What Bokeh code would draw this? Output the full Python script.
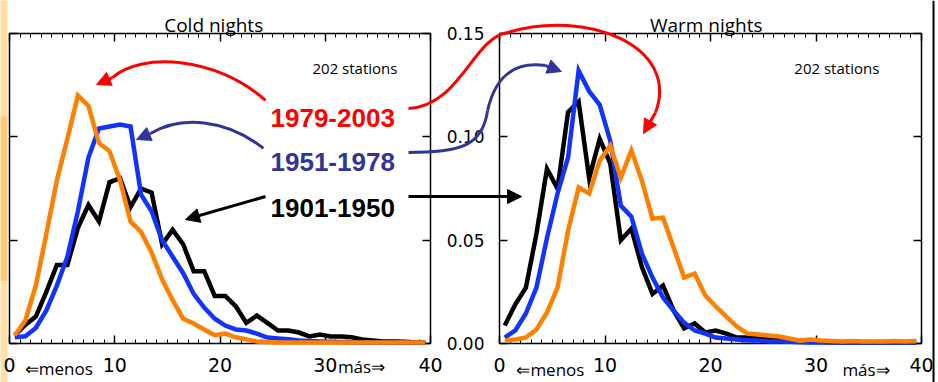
from bokeh.plotting import figure
from bokeh.models import (Range1d, LinearAxis, FixedTicker, Label, Arrow, NormalHead, Span,
                          PrintfTickFormatter, BoxAnnotation)
from bokeh.embed import file_html
from bokeh.resources import INLINE

# ---------------- data ----------------
bins = [i + 0.5 for i in range(40)]          # bin centres (0..40)
x_ticks = [0, 10, 20, 30, 40]
y_ticks = [0.0, 0.05, 0.10, 0.15]
periods = ["1901-1950", "1951-1978", "1979-2003"]
panel_titles = ["Cold nights", "Warm nights"]
stations_text = "202 stations"

cold_1901 = [0.004, 0.009, 0.013, 0.025, 0.038, 0.038, 0.056, 0.067, 0.059, 0.078,
             0.080, 0.066, 0.075, 0.073, 0.048, 0.055, 0.048, 0.035, 0.035, 0.023,
             0.023, 0.018, 0.010, 0.0135, 0.010, 0.0063, 0.0063, 0.0053, 0.0034, 0.0043,
             0.0034, 0.0034, 0.003, 0.002, 0.0015, 0.001, 0.001, 0.0008, 0.0005, 0.0005]
cold_1951 = [0.003, 0.0035, 0.0075, 0.016, 0.028, 0.042, 0.064, 0.090, 0.104, 0.105,
             0.106, 0.105, 0.072, 0.064, 0.050, 0.042, 0.034, 0.024, 0.0174, 0.012,
             0.0087, 0.0068, 0.0063, 0.0048, 0.0029, 0.0024, 0.002, 0.0015, 0.0012, 0.001,
             0.0008, 0.0007, 0.0006, 0.0005, 0.0005, 0.0005, 0.0004, 0.0004, 0.0004, 0.0004]
cold_1979 = [0.004, 0.011, 0.028, 0.053, 0.079, 0.099, 0.120, 0.115, 0.097, 0.093,
             0.079, 0.059, 0.054, 0.044, 0.031, 0.021, 0.012, 0.0097, 0.0068, 0.004,
             0.0048, 0.003, 0.002, 0.001, 0.0007, 0.0005, 0.0005, 0.0005, 0.0005, 0.0005,
             0.0005, 0.0005, 0.0005, 0.0005, 0.0005, 0.0005, 0.0005, 0.0005, 0.0005, 0.0005]

warm_1901 = [0.0087, 0.019, 0.027, 0.053, 0.0845, 0.075, 0.112, 0.117, 0.080, 0.099,
             0.087, 0.050, 0.0556, 0.037, 0.024, 0.028, 0.016, 0.0073, 0.0097, 0.0053,
             0.0063, 0.0048, 0.0029, 0.0029, 0.0024, 0.0019, 0.0015, 0.0015, 0.001, 0.001,
             0.0008, 0.0006, 0.0005, 0.0005, 0.0005, 0.0005, 0.0005, 0.0005, 0.0005, 0.0005]
warm_1951 = [0.0029, 0.0063, 0.0145, 0.027, 0.051, 0.0726, 0.090, 0.132, 0.122, 0.1155,
             0.098, 0.0667, 0.0614, 0.0435, 0.0319, 0.0222, 0.016, 0.0101, 0.0063, 0.0048,
             0.0029, 0.0024, 0.0019, 0.0015, 0.0015, 0.001, 0.001, 0.0008, 0.0006, 0.0005,
             0.0005, 0.0005, 0.0005, 0.0005, 0.0005, 0.0005, 0.0005, 0.0005, 0.0005, 0.0005]
warm_1979 = [0.0014, 0.0019, 0.0029, 0.0068, 0.015, 0.027, 0.0546, 0.0755, 0.0726, 0.0885,
             0.0957, 0.0803, 0.0934, 0.0787, 0.0604, 0.0609, 0.0464, 0.0319, 0.0338, 0.0232,
             0.0179, 0.013, 0.0082, 0.0048, 0.0043, 0.0039, 0.0034, 0.0024, 0.0014, 0.0019,
             0.0014, 0.0012, 0.001, 0.0012, 0.001, 0.001, 0.001, 0.0012, 0.001, 0.0012]

# ---------------- layout (pixels of the canvas) ----------------
W, H = 938, 382
LX0, LX1 = 9, 430      # left panel frame
RX0, RX1 = 499, 921    # right panel frame
TOP, BOT = 33, 343     # both panels
XMAX, YMAX = 40, 0.15

def span_range(p0, p1, vmax, size):
    s = (p1 - p0) / vmax
    return Range1d(start=-p0 / s, end=(size - p0) / s)

p = figure(width=W, height=H,
           x_range=span_range(LX0, LX1, XMAX, W),
           y_range=span_range(H - BOT, H - TOP, YMAX, H),
           x_axis_type=None, y_axis_type=None,
           output_backend="svg", toolbar_location=None,
           min_border=0, outline_line_color=None)
p.title.visible = False
p.extra_x_ranges = {"right": span_range(RX0, RX1, XMAX, W)}
p.background_fill_color = "white"
p.border_fill_color = "white"

COLORS = {"1901-1950": "#000000", "1951-1978": "#1133ff", "1979-2003": "#ff7f00"}
TICK_FONT = "DejaVu Sans"

def style(ax, font_size="19px", standoff=12):
    ax.axis_line_width = 1.5
    ax.axis_line_color = "black"
    ax.major_tick_line_width = 1.5
    ax.minor_tick_line_width = 1
    ax.major_tick_in = 8
    ax.major_tick_out = 0
    ax.minor_tick_in = 4
    ax.minor_tick_out = 0
    ax.major_label_text_font = TICK_FONT
    ax.major_label_text_font_size = font_size
    ax.major_label_text_color = "black"
    ax.major_label_standoff = standoff

def panel_axes(rname, ylabels):
    xt = lambda: FixedTicker(ticks=x_ticks, minor_ticks=list(range(0, XMAX + 1)))
    yt = lambda: FixedTicker(ticks=y_ticks, minor_ticks=[])
    bottom = LinearAxis(x_range_name=rname, fixed_location=0, bounds=(0, XMAX), ticker=xt())
    style(bottom, "19px", 14)
    p.add_layout(bottom, "below")
    top = LinearAxis(x_range_name=rname, fixed_location=YMAX, bounds=(0, XMAX), ticker=xt(),
                     major_label_overrides={t: "" for t in x_ticks})
    style(top)
    p.add_layout(top, "above")
    left = LinearAxis(x_range_name=rname, fixed_location=0, bounds=(0, YMAX), ticker=yt())
    if ylabels:
        left.formatter = PrintfTickFormatter(format="%.2f")
        style(left, "17px", 15)
    else:
        left.major_label_overrides = {t: "" for t in y_ticks}
        style(left)
    p.add_layout(left, "left")
    right = LinearAxis(x_range_name=rname, fixed_location=XMAX, bounds=(0, YMAX), ticker=yt(),
                       major_label_overrides={t: "" for t in y_ticks})
    style(right)
    p.add_layout(right, "right")

panel_axes("default", False)
panel_axes("right", True)

# slide decoration: orange band on the left (light - orange - light), black rule on the right
for yb, yt_, col in ((0.11, 0.2, "#fddda0"), (0.03, 0.11, "#fcc874"), (-0.03, 0.03, "#fddfa8")):
    p.add_layout(BoxAnnotation(left=-1.2, right=-0.19, bottom=yb, top=yt_, fill_color=col,
                               fill_alpha=1.0, line_color=None, level="underlay"))
p.add_layout(Span(location=41.14, dimension="height", x_range_name="right",
                  line_color="black", line_width=2))

# ---------------- data lines ----------------
for rname, series in (("default", [cold_1901, cold_1951, cold_1979]),
                      ("right", [warm_1901, warm_1951, warm_1979])):
    for per, vals in zip(periods, series):
        p.line(bins, vals, x_range_name=rname, line_width=4.5, line_color=COLORS[per],
               line_join="miter", level="annotation")

# ---------------- texts ----------------
for rname, title, xc in (("default", panel_titles[0], 19.4), ("right", panel_titles[1], 19.6)):
    p.add_layout(Label(x=xc, y=0.1539, x_range_name=rname, text=title, text_align="center",
                       text_baseline="alphabetic", text_font="Open Sans", text_font_size="19px",
                       text_color="black"))
for rname, xr in (("default", 36.86), ("right", 36.0)):
    p.add_layout(Label(x=xr, y=0.1335, x_range_name=rname, text=stations_text, text_align="right",
                       text_baseline="alphabetic", text_font="Open Sans", text_font_size="15px",
                       text_color="black"))

for rname, xm, ym, xp, yp in (("default", 1.45, -0.0123, 31.2, -0.0110),
                              ("right", 1.6, -0.0126, 32.5, -0.0126)):
    p.add_layout(Label(x=xm, y=ym, x_range_name=rname, text="\u21d0menos", text_baseline="alphabetic",
                       text_font="Open Sans", text_font_size="17px", text_color="black"))
    p.add_layout(Label(x=xp, y=yp, x_range_name=rname, text="m\u00e1s\u21d2", text_baseline="alphabetic",
                       text_font="Open Sans", text_font_size="17px", text_color="black"))

LABEL_COLORS = {"1979-2003": "#ff0000", "1951-1978": "#333399", "1901-1950": "#000000"}
for per, yb in (("1979-2003", 0.1089), ("1951-1978", 0.0876), ("1901-1950", 0.0658)):
    p.add_layout(Label(x=24.8, y=yb, text=per, text_baseline="alphabetic",
                       text_font="Liberation Sans", text_font_style="bold", text_font_size="26px",
                       text_color=LABEL_COLORS[per]))

# ---------------- curved arrows (left-panel data units) ----------------
def curve(segs, color, tip_from, tip_to):
    x0, y0, x1, y1, cx0, cy0, cx1, cy1 = zip(*segs)
    p.bezier(x0=list(x0), y0=list(y0), x1=list(x1), y1=list(y1),
             cx0=list(cx0), cy0=list(cy0), cx1=list(cx1), cy1=list(cy1),
             line_color=color, line_width=3, level="overlay")
    p.add_layout(Arrow(x_start=tip_from[0], y_start=tip_from[1], x_end=tip_to[0], y_end=tip_to[1],
                       line_color=color, line_width=3, level="overlay",
                       end=NormalHead(size=14, fill_color=color, line_color=color, line_width=1)))

RED, NAVY = "#ff0000", "#333399"
# red: label -> cold peak
curve([(24.32, 0.1176, 9.79, 0.1287, 19.57, 0.1394, 12.45, 0.1408)], RED,
      (9.79, 0.1287), (8.27, 0.1253))
# red: label -> warm peak
curve([(37.91, 0.1137, 47.32, 0.1505, 42.85, 0.1152, 43.99, 0.1476),
       (47.32, 0.1505, 61.38, 0.1118, 54.73, 0.1621, 63.75, 0.1442)], RED,
      (61.38, 0.1118), (60.24, 0.1016))
# blue: label -> cold peak
curve([(24.13, 0.0944, 13.40, 0.1016, 20.52, 0.1089, 16.25, 0.1103)], NAVY,
      (13.40, 0.1016), (12.07, 0.0987))
# blue: label -> warm peak
curve([(37.91, 0.0924, 45.42, 0.1127, 42.38, 0.0924, 44.94, 0.0944),
       (45.42, 0.1127, 50.93, 0.1345, 46.08, 0.1273, 47.60, 0.1369)], NAVY,
      (50.93, 0.1345), (52.45, 0.1316))
# black straight arrows
for xs, ys, xe, ye in ((24.32, 0.0711, 16.72, 0.0600), (37.91, 0.0711, 48.65, 0.0711)):
    p.add_layout(Arrow(x_start=xs, y_start=ys, x_end=xe, y_end=ye, line_color="black", line_width=3,
                       level="overlay",
                       end=NormalHead(size=14, fill_color="black", line_color="black", line_width=1)))

open("out.html", "w").write(file_html(p, INLINE))
